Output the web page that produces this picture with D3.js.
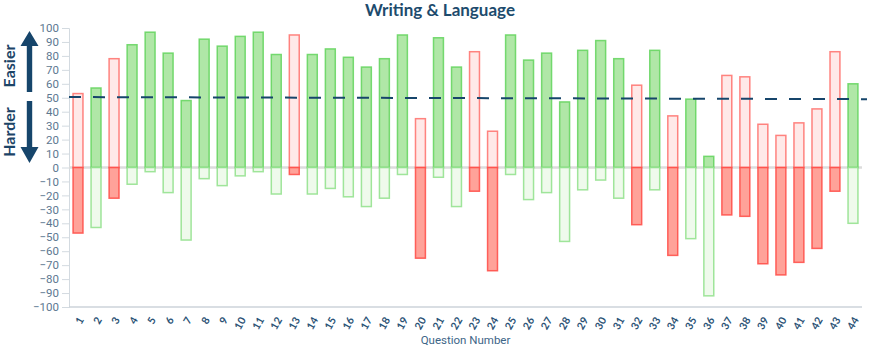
<!DOCTYPE html>
<html>
<head>
<meta charset="utf-8">
<script src="https://cdn.jsdelivr.net/npm/d3@7"></script>
<style>
body { margin: 0; background: #fff; }
text { font-family: Lato, "Open Sans", sans-serif; }
</style>
</head>
<body>
<div id="canvas"></div>
<script>
var w = 869;
var h = 351;

// percent correct per question (the lower bar is the rest up to 100)
var questions = d3.range(1, 45).map(String);
var percentCorrect = [53, 57, 78, 88, 97, 82, 48, 92, 87, 94, 97, 81, 95, 81, 85, 79, 72, 78, 95, 35, 93, 72, 83, 26, 95, 77, 82, 47, 84, 91, 78, 59, 84, 37, 49, 8, 66, 65, 31, 23, 32, 42, 83, 60];
// R = answered wrong, G = answered right
var results = ["R","G","R","G","G","G","G","G","G","G","G","G","R","G","G","G","G","G","G","R","G","G","R","R","G","G","G","G","G","G","G","R","G","R","G","G","R","R","R","R","R","R","R","G"];
var avgLine = [50.5, 49];
var yTicks = d3.range(-100, 101, 10);

var svg = d3.select("#canvas").append("svg")
				.attr("width", w)
				.attr("height", h);

var mLeft = 69, mRight = 862, mTop = 28, mBottom = 307;

var xScale = d3.scaleBand()
				.domain(questions)
				.range([mLeft, mRight])
				.paddingInner(0.45)
				.paddingOuter(0.225);

var yScale = d3.scaleLinear()
				.domain([-100, 100])
				.range([mBottom, mTop]);

// title
svg.append("text")
	.attr("x", 440)
	.attr("y", 16)
	.attr("text-anchor", "middle")
	.attr("font-size", 17)
	.attr("font-weight", "bold")
	.attr("fill", "#1d4b6d")
	.text("Writing & Language");

// y axis
var yAxis = svg.append("g")
	.attr("transform", "translate(" + mLeft + ",0)")
	.call(d3.axisLeft(yScale).tickValues(yTicks).tickSize(7).tickPadding(3));
yAxis.select(".domain").attr("stroke", "#d3dae0");
yAxis.selectAll(".tick line").attr("stroke", "#d3dae0");
yAxis.selectAll(".tick text")
	.attr("fill", "#5d7891")
	.attr("font-size", 11.5)
	.style("font-family", "Roboto, sans-serif");

// bottom line
svg.append("line")
	.attr("x1", mLeft).attr("x2", mRight)
	.attr("y1", yScale(-100)).attr("y2", yScale(-100))
	.attr("stroke", "#ccd3da")
	.attr("stroke-width", 1.5);

// x labels
var xAxis = svg.append("g")
	.attr("transform", "translate(0," + mBottom + ")")
	.call(d3.axisBottom(xScale).tickSize(0).tickPadding(0));
xAxis.select(".domain").remove();
xAxis.selectAll(".tick text")
	.attr("fill", "#2b5275")
	.attr("font-size", 10.5)
	.attr("font-weight", "bold")
	.attr("text-anchor", "end")
	.attr("y", 0)
	.attr("dy", "0.35em")
	.attr("transform", "translate(3,11) rotate(-60)");

svg.append("text")
	.attr("x", (mLeft + mRight) / 2)
	.attr("y", 344)
	.attr("text-anchor", "middle")
	.attr("font-size", 11.5)
	.attr("fill", "#3d6587")
	.style("font-family", "Roboto, sans-serif")
	.text("Question Number");

// zero line
svg.append("line")
	.attr("x1", mLeft).attr("x2", mRight)
	.attr("y1", yScale(0)).attr("y2", yScale(0))
	.attr("stroke", "#dcdcdc")
	.attr("stroke-width", 2.5);

var data = questions.map(function(q, i){
	return {q: q, v: percentCorrect[i], r: results[i]};
});

var colors = {
	G: {upFill: "#a9e5a0", upStroke: "#62d45c", downFill: "#eefaea", downStroke: "#8fe089"},
	R: {upFill: "#ffe7e6", upStroke: "#ff6f6a", downFill: "#ff9a90", downStroke: "#ff4a44"}
};

// upper bars
svg.selectAll("rect.up")
	.data(data)
	.join("rect")
	.attr("class", "up")
	.attr("x", function(d){ return xScale(d.q); })
	.attr("y", function(d){ return yScale(d.v); })
	.attr("width", xScale.bandwidth())
	.attr("height", function(d){ return yScale(0) - yScale(d.v); })
	.attr("fill", function(d){ return colors[d.r].upFill; })
	.attr("fill-opacity", 0.92)
	.attr("stroke", function(d){ return colors[d.r].upStroke; })
	.attr("stroke-opacity", 0.85)
	.attr("stroke-width", 1.5);

// lower bars
svg.selectAll("rect.down")
	.data(data)
	.join("rect")
	.attr("class", "down")
	.attr("x", function(d){ return xScale(d.q); })
	.attr("y", yScale(0))
	.attr("width", xScale.bandwidth())
	.attr("height", function(d){ return yScale(d.v - 100) - yScale(0); })
	.attr("fill", function(d){ return colors[d.r].downFill; })
	.attr("fill-opacity", 0.92)
	.attr("stroke", function(d){ return colors[d.r].downStroke; })
	.attr("stroke-opacity", 0.85)
	.attr("stroke-width", 1.5);

// average dashed line
svg.append("line")
	.attr("x1", mLeft).attr("x2", mRight + 5)
	.attr("y1", yScale(avgLine[0])).attr("y2", yScale(avgLine[1]))
	.attr("stroke", "#16456b")
	.attr("stroke-width", 2)
	.attr("stroke-dasharray", "12,12");

// easier / harder
svg.append("text")
	.attr("transform", "translate(15,66) rotate(-90)")
	.attr("text-anchor", "middle")
	.attr("font-size", 16)
	.attr("font-weight", "bold")
	.attr("fill", "#1c4467")
	.text("Easier");
svg.append("text")
	.attr("transform", "translate(15,132) rotate(-90)")
	.attr("text-anchor", "middle")
	.attr("font-size", 16)
	.attr("font-weight", "bold")
	.attr("fill", "#1c4467")
	.text("Harder");

var ax = 29.5;
svg.append("path")
	.attr("d", "M" + (ax - 2.7) + ",92 L" + (ax - 2.7) + ",46 L" + (ax - 9) + ",46 L" + ax + ",31 L" + (ax + 9) + ",46 L" + (ax + 2.7) + ",46 L" + (ax + 2.7) + ",92 Z")
	.attr("fill", "#16456b");
svg.append("path")
	.attr("d", "M" + (ax - 2.7) + ",101 L" + (ax - 2.7) + ",147 L" + (ax - 9) + ",147 L" + ax + ",163 L" + (ax + 9) + ",147 L" + (ax + 2.7) + ",147 L" + (ax + 2.7) + ",101 Z")
	.attr("fill", "#16456b");
</script>
</body>
</html>
